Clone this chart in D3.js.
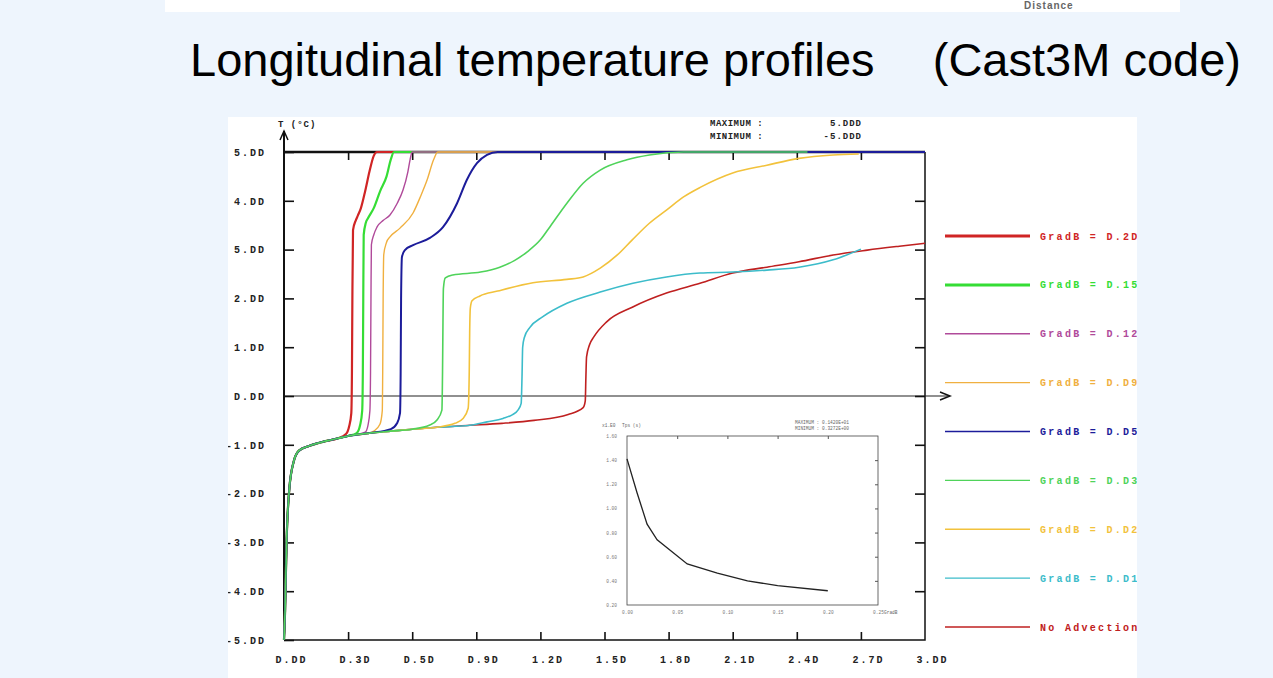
<!DOCTYPE html>
<html>
<head>
<meta charset="utf-8">
<script src="https://cdn.jsdelivr.net/npm/d3@7"></script>
<style>
  body { margin: 0; background: #eef5fd; }
  svg { display: block; }
  .mono { font-family: "Liberation Mono", "DejaVu Sans Mono", monospace; font-weight: bold; }
</style>
</head>
<body>
<svg id="chart" width="1273" height="678"></svg>
<script>
// tick labels, as printed on the picture
var xTickValues = [0, 0.3, 0.6, 0.9, 1.2, 1.5, 1.8, 2.1, 2.4, 2.7, 3.0];
var xTickLabels = ["D.DD", "D.3D", "D.5D", "D.9D", "1.2D", "1.5D", "1.8D", "2.1D", "2.4D", "2.7D", "3.DD"];
var yTickValues = [5, 4, 3, 2, 1, 0, -1, -2, -3, -4, -5];
var yTickLabels = ["5.DD", "4.DD", "5.DD", "2.DD", "1.DD", "D.DD", "-1.DD", "-2.DD", "-3.DD", "-4.DD", "-5.DD"];

// legend
var seriesNames = ["GradB = D.2D", "GradB = D.15", "GradB = D.12", "GradB = D.D9", "GradB = D.D5",
                   "GradB = D.D3", "GradB = D.D2", "GradB = D.D1", "No Advection"];
var seriesColors = ["#d02525", "#35dd35", "#b04a9a", "#f0b040", "#1c1c9a",
                    "#4fd35a", "#f2c23c", "#3cbcca", "#bf2020"];
var seriesWidths = [2.2, 2.2, 1.4, 1.4, 2, 1.6, 1.6, 1.6, 1.6];

// common low part of all profiles (x in m, T in degC)
var lowProfile = [[0, -5], [0.005, -4.4], [0.012, -3.0], [0.025, -1.9], [0.045, -1.35], [0.07, -1.12],
                  [0.12, -1.02], [0.2, -0.92], [0.25, -0.87], [0.3, -0.82], [0.4, -0.76], [0.5, -0.72],
                  [0.6, -0.68], [0.716, -0.64], [0.87, -0.6], [1.02, -0.56]];

// where each profile leaves the common part
var leaveAt = [0.28, 0.33, 0.37, 0.41, 0.46, 0.62, 0.72, 0.88, 1.03];

var g20 = [[0.29, -0.78], [0.305, -0.62], [0.315, -0.35], [0.318, 0.5], [0.32, 2.0], [0.323, 3.4], [0.336, 3.6],
           [0.346, 3.7], [0.36, 3.85], [0.38, 4.2], [0.40, 4.6], [0.42, 4.92], [0.435, 5], [3.0, 5]];
var g15 = [[0.34, -0.76], [0.356, -0.6], [0.366, -0.3], [0.369, 0.5], [0.371, 2.0], [0.373, 3.3], [0.383, 3.55],
           [0.393, 3.64], [0.42, 3.85], [0.45, 4.2], [0.48, 4.5], [0.50, 4.85], [0.515, 5], [3.0, 5]];
var g12 = [[0.38, -0.74], [0.393, -0.6], [0.402, -0.3], [0.405, 0.5], [0.407, 2.0], [0.409, 3.1], [0.42, 3.3],
           [0.435, 3.46], [0.465, 3.6], [0.496, 3.71], [0.53, 3.95], [0.557, 4.22], [0.58, 4.6], [0.59, 4.84],
           [0.60, 5], [3.0, 5]];
var g09 = [[0.42, -0.72], [0.449, -0.58], [0.46, -0.3], [0.462, 0.5], [0.464, 2.0], [0.467, 2.9], [0.48, 3.15],
           [0.496, 3.26], [0.543, 3.44], [0.604, 3.75], [0.64, 4.1], [0.67, 4.43], [0.70, 4.84], [0.72, 5], [3.0, 5]];
var g06 = [[0.5, -0.68], [0.529, -0.56], [0.543, -0.35], [0.546, 0.5], [0.548, 2.0], [0.552, 2.85], [0.566, 2.99],
           [0.604, 3.09], [0.683, 3.24], [0.744, 3.46], [0.81, 3.95], [0.856, 4.43], [0.903, 4.77], [0.95, 4.94],
           [1.0, 5], [3.0, 5]];
var g03 = [[0.68, -0.6], [0.716, -0.49], [0.739, -0.29], [0.742, 0.5], [0.744, 1.5], [0.746, 2.2], [0.755, 2.42],
           [0.79, 2.48], [0.92, 2.54], [1.01, 2.64], [1.08, 2.78], [1.14, 2.96], [1.2, 3.2], [1.245, 3.47],
           [1.324, 3.95], [1.4, 4.36], [1.48, 4.63], [1.605, 4.84], [1.71, 4.94], [1.87, 5], [2.45, 5]];
var g02 = [[0.8, -0.56], [0.838, -0.46], [0.862, -0.25], [0.867, 0.5], [0.869, 1.3], [0.872, 1.8], [0.88, 1.95],
           [0.917, 2.05], [1.0, 2.15], [1.165, 2.32], [1.324, 2.39], [1.4, 2.44], [1.48, 2.62], [1.56, 2.89],
           [1.63, 3.2], [1.71, 3.54], [1.79, 3.81], [1.87, 4.08], [1.95, 4.28], [2.1, 4.57], [2.26, 4.73],
           [2.41, 4.87], [2.57, 4.94], [2.69, 4.96]];
var g01 = [[0.95, -0.53], [1.025, -0.46], [1.07, -0.38], [1.095, -0.29], [1.11, -0.15], [1.114, 0.4], [1.117, 1.0],
           [1.125, 1.2], [1.15, 1.4], [1.21, 1.62], [1.324, 1.9], [1.48, 2.13], [1.633, 2.31], [1.79, 2.44],
           [1.947, 2.52], [2.1, 2.54], [2.26, 2.58], [2.41, 2.64], [2.57, 2.79], [2.70, 3.01]];
var noAdv = [[1.17, -0.5], [1.33, -0.38], [1.40, -0.24], [1.41, -0.1], [1.413, 0.4], [1.416, 0.8], [1.43, 1.05],
             [1.45, 1.21], [1.51, 1.52], [1.63, 1.82], [1.79, 2.11], [1.947, 2.31], [2.1, 2.52], [2.26, 2.64],
             [2.41, 2.75], [2.57, 2.89], [2.73, 2.99], [2.88, 3.07], [3.0, 3.13]];
var branches = [g20, g15, g12, g09, g06, g03, g02, g01, noAdv];

// inset: time vs GradB
var insetX = [0, 0.01, 0.02, 0.03, 0.06, 0.09, 0.12, 0.15, 0.20];
var insetY = [1.41, 1.13, 0.87, 0.74, 0.54, 0.465, 0.40, 0.36, 0.318];
var insetXTicks = [0, 0.05, 0.10, 0.15, 0.20, 0.25];
var insetYTicks = [0.2, 0.4, 0.6, 0.8, 1.0, 1.2, 1.4, 1.6];

var svg = d3.select("#chart");

svg.append("rect").attr("width", 1273).attr("height", 678).attr("fill", "#eef5fd");

// white strip left over from the slide above
svg.append("rect").attr("x", 165).attr("y", 0).attr("width", 1015).attr("height", 12).attr("fill", "#fff");
svg.append("text")
    .attr("x", 1024).attr("y", 9)
    .style("font-family", "Liberation Sans, Arial, sans-serif").style("font-weight", "bold")
    .style("font-size", "10px").style("letter-spacing", "1px").attr("fill", "#666")
    .text("Distance");

// title
var title = svg.append("g").style("font-family", "Liberation Sans, Arial, sans-serif").style("font-size", "47px");
title.append("text").attr("x", 190).attr("y", 76).text("Longitudinal temperature profiles");
title.append("text").attr("x", 1241).attr("y", 76).attr("text-anchor", "end").text("(Cast3M code)");

// the chart picture
svg.append("defs").append("clipPath").attr("id", "picClip")
    .append("rect").attr("x", 228).attr("y", 117).attr("width", 909).attr("height", 561);
svg.append("rect").attr("x", 228).attr("y", 117).attr("width", 909).attr("height", 561).attr("fill", "#fff");

var pic = svg.append("g").attr("clip-path", "url(#picClip)");

var x = d3.scaleLinear().domain([0, 3]).range([284, 925]);
var y = d3.scaleLinear().domain([-5, 5]).range([640, 152]);

// frame
pic.append("path")
    .attr("d", "M" + x(3) + "," + y(5) + "V" + y(-5) + "H" + x(0))
    .attr("fill", "none").attr("stroke", "#111").attr("stroke-width", 1.5);
pic.append("line").attr("x1", x(0)).attr("x2", x(3)).attr("y1", y(5)).attr("y2", y(5))
    .attr("stroke", "#111").attr("stroke-width", 2.5);

// left axis with arrow
pic.append("line").attr("x1", x(0)).attr("x2", x(0)).attr("y1", y(-5)).attr("y2", 131)
    .attr("stroke", "#111").attr("stroke-width", 2);
pic.append("path").attr("d", "M" + (x(0) - 4) + ",140L" + x(0) + ",131L" + (x(0) + 4) + ",140")
    .attr("fill", "none").attr("stroke", "#111").attr("stroke-width", 1.5);

// T = 0 axis with arrow
pic.append("line").attr("x1", x(0)).attr("x2", 950).attr("y1", y(0)).attr("y2", y(0))
    .attr("stroke", "#222").attr("stroke-width", 1.2);
pic.append("path").attr("d", "M940," + (y(0) - 4) + "L950," + y(0) + "L940," + (y(0) + 4))
    .attr("fill", "none").attr("stroke", "#111").attr("stroke-width", 1.5);

// axes
var yAxis = pic.append("g").attr("class", "mono")
    .attr("transform", "translate(" + x(0) + ",0)")
    .call(d3.axisLeft(y).tickValues(yTickValues).tickSize(-10).tickPadding(18)
        .tickFormat(function(d, i) { return yTickLabels[i]; }));
var yAxisR = pic.append("g")
    .attr("transform", "translate(" + x(3) + ",0)")
    .call(d3.axisRight(y).tickValues(yTickValues.slice(1, 10)).tickSize(-10).tickFormat(""));
var xAxis = pic.append("g").attr("class", "mono")
    .attr("transform", "translate(0," + y(-5) + ")")
    .call(d3.axisBottom(x).tickValues(xTickValues).tickSize(-8).tickPadding(16)
        .tickFormat(function(d, i) { return xTickLabels[i]; }));
var xAxisT = pic.append("g")
    .attr("transform", "translate(0," + y(5) + ")")
    .call(d3.axisTop(x).tickValues(xTickValues.slice(1, 10)).tickSize(-8).tickFormat(""));

[yAxis, yAxisR, xAxis, xAxisT].forEach(function(a) {
    a.select(".domain").remove();
    a.selectAll(".tick line").attr("stroke", "#111").attr("stroke-width", 1.6);
});
yAxis.selectAll(".tick text").attr("font-size", 10).attr("fill", "#222").style("letter-spacing", "2px");
xAxis.selectAll(".tick text").attr("font-size", 10).attr("fill", "#222").attr("dx", 7).style("letter-spacing", "2px");
xAxis.selectAll(".tick").filter(function(d) { return d === 0 || d === 3; }).select("line").remove();

// header texts
var hdr = pic.append("g").attr("class", "mono").attr("font-size", 9).attr("fill", "#222");
hdr.append("text").attr("x", 278).attr("y", 127).style("letter-spacing", "1px").text("T (°C)");
hdr.append("text").attr("x", 710).attr("y", 126).style("letter-spacing", "0.5px").text("MAXIMUM :");
hdr.append("text").attr("x", 710).attr("y", 139).style("letter-spacing", "0.5px").text("MINIMUM :");
hdr.append("text").attr("x", 862).attr("y", 126).attr("text-anchor", "end").style("letter-spacing", "1px").text("5.DDD");
hdr.append("text").attr("x", 862).attr("y", 139).attr("text-anchor", "end").style("letter-spacing", "1px").text("-5.DDD");

// profiles
var line = d3.line()
    .x(function(d) { return x(d[0]); })
    .y(function(d) { return y(d[1]); })
    .curve(d3.curveMonotoneX);

var profiles = branches.map(function(b, i) {
    return lowProfile.filter(function(p) { return p[0] < leaveAt[i]; }).concat(b);
});

// draw order: wide-jump curves first so the blue stays on the top edge
var order = [8, 7, 6, 0, 1, 2, 3, 4, 5];
pic.selectAll("path.profile")
    .data(order)
    .join("path")
    .attr("class", "profile")
    .attr("d", function(i) { return line(profiles[i]); })
    .attr("fill", "none")
    .attr("stroke", function(i) { return seriesColors[i]; })
    .attr("stroke-width", function(i) { return seriesWidths[i]; })
    .attr("stroke-linejoin", "round");

// legend
var ly = d3.scaleLinear().domain([0, 8]).range([236, 627]);
var legend = pic.append("g").selectAll("g").data(seriesNames).join("g")
    .attr("transform", function(d, i) { return "translate(0," + ly(i) + ")"; });
legend.append("line").attr("x1", 945).attr("x2", 1030)
    .attr("stroke", function(d, i) { return seriesColors[i]; })
    .attr("stroke-width", function(d, i) { return seriesWidths[i] > 2 ? 3 : 1.4; });
legend.append("text").attr("class", "mono")
    .attr("x", 1040).attr("dy", "0.35em").attr("font-size", 10)
    .style("letter-spacing", "2.3px")
    .attr("fill", function(d, i) { return seriesColors[i]; })
    .text(function(d) { return d; });

// inset
var ix = d3.scaleLinear().domain([0, 0.25]).range([627, 878]);
var iy = d3.scaleLinear().domain([0.2, 1.6]).range([605, 436]);
var inset = pic.append("g");
inset.append("rect").attr("x", ix(0)).attr("y", iy(1.6))
    .attr("width", ix(0.25) - ix(0)).attr("height", iy(0.2) - iy(1.6))
    .attr("fill", "#fff").attr("stroke", "#444").attr("stroke-width", 0.8);

var iAxL = inset.append("g").attr("transform", "translate(" + ix(0) + ",0)")
    .call(d3.axisLeft(iy).tickValues(insetYTicks).tickSize(0).tickPadding(10).tickFormat(d3.format(".2f")));
var iAxB = inset.append("g").attr("transform", "translate(0," + iy(0.2) + ")")
    .call(d3.axisBottom(ix).tickValues(insetXTicks).tickSize(0).tickPadding(6).tickFormat(d3.format(".2f")));
var iAxR = inset.append("g").attr("transform", "translate(" + ix(0.25) + ",0)")
    .call(d3.axisRight(iy).tickValues(insetYTicks.slice(1, 7)).tickSize(-3).tickFormat(""));
var iAxT = inset.append("g").attr("transform", "translate(0," + iy(1.6) + ")")
    .call(d3.axisTop(ix).tickValues(insetXTicks.slice(1, 5)).tickSize(-3).tickFormat(""));
[iAxL, iAxB, iAxR, iAxT].forEach(function(a) {
    a.select(".domain").remove();
    a.selectAll(".tick line").attr("stroke", "#555");
    a.selectAll(".tick text").attr("font-size", 4.5).attr("fill", "#777")
        .style("font-family", "Liberation Mono, monospace");
});

inset.append("path")
    .datum(d3.zip(insetX, insetY))
    .attr("d", d3.line().x(function(d) { return ix(d[0]); }).y(function(d) { return iy(d[1]); }))
    .attr("fill", "none").attr("stroke", "#222").attr("stroke-width", 1.3);

var ih = inset.append("g").style("font-family", "Liberation Mono, monospace").attr("font-size", 4.5).attr("fill", "#666");
ih.append("text").attr("x", 602).attr("y", 427).text("x1.E0");
ih.append("text").attr("x", 622).attr("y", 427).text("Tps (s)");
ih.append("text").attr("x", 795).attr("y", 424).text("MAXIMUM :  0.1420E+01");
ih.append("text").attr("x", 795).attr("y", 430).text("MINIMUM :  0.3272E+00");
ih.append("text").attr("x", 884).attr("y", 614).text("GradB");
</script>
</body>
</html>
